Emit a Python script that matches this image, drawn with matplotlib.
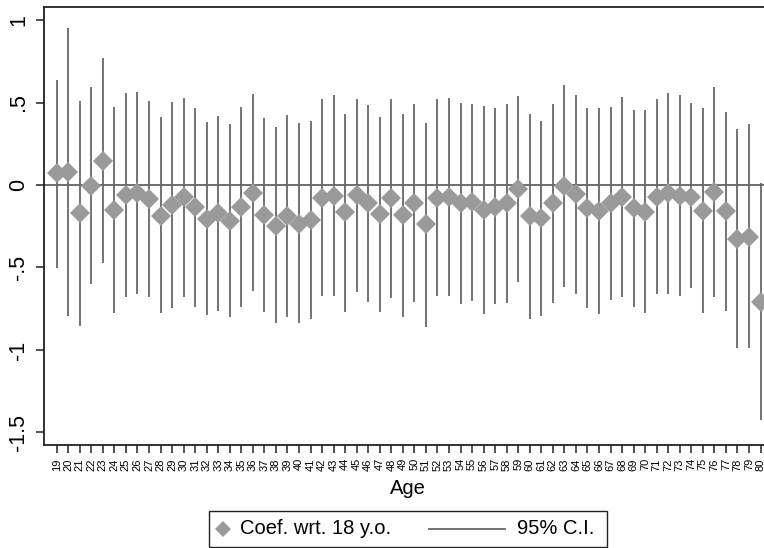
import matplotlib
matplotlib.use("Agg")
import matplotlib.pyplot as plt
from matplotlib.lines import Line2D
from matplotlib.patches import Rectangle
import numpy as np

plt.rcParams['font.family'] = ['Liberation Sans', 'DejaVu Sans']

ages = list(range(19, 81))
coef = [0.071, 0.081, -0.172, -0.004, 0.145, -0.152, -0.061, -0.046, -0.087, -0.186,
        -0.121, -0.075, -0.135, -0.206, -0.168, -0.218, -0.135, -0.046, -0.182, -0.246,
        -0.188, -0.236, -0.212, -0.081, -0.065, -0.166, -0.061, -0.107, -0.178, -0.081,
        -0.182, -0.107, -0.238, -0.077, -0.071, -0.111, -0.105, -0.152, -0.131, -0.111,
        -0.024, -0.188, -0.202, -0.111, -0.004, -0.055, -0.141, -0.158, -0.111, -0.071,
        -0.141, -0.166, -0.071, -0.051, -0.067, -0.071, -0.156, -0.044, -0.158, -0.329,
        -0.313, -0.707]
ci_hi = [0.636, 0.953, 0.511, 0.592, 0.768, 0.475, 0.560, 0.564, 0.509, 0.410,
         0.505, 0.525, 0.465, 0.380, 0.420, 0.368, 0.471, 0.550, 0.408, 0.354,
         0.424, 0.374, 0.390, 0.519, 0.545, 0.430, 0.523, 0.487, 0.414, 0.519,
         0.428, 0.489, 0.374, 0.519, 0.529, 0.495, 0.493, 0.481, 0.465, 0.489,
         0.541, 0.430, 0.386, 0.489, 0.604, 0.545, 0.465, 0.469, 0.471, 0.531,
         0.455, 0.455, 0.521, 0.556, 0.543, 0.495, 0.469, 0.592, 0.444, 0.337,
         0.370, 0.014]
ci_lo = [-0.505, -0.794, -0.853, -0.602, -0.475, -0.778, -0.677, -0.663, -0.677, -0.778,
         -0.747, -0.677, -0.737, -0.788, -0.762, -0.798, -0.737, -0.642, -0.768, -0.834,
         -0.802, -0.834, -0.812, -0.673, -0.673, -0.772, -0.650, -0.707, -0.772, -0.683,
         -0.798, -0.707, -0.859, -0.673, -0.673, -0.721, -0.703, -0.782, -0.723, -0.713,
         -0.590, -0.812, -0.794, -0.713, -0.620, -0.663, -0.747, -0.782, -0.697, -0.677,
         -0.737, -0.778, -0.663, -0.663, -0.673, -0.626, -0.778, -0.681, -0.762, -0.990,
         -0.990, -1.424]
ytick_vals = [1, 0.5, 0, -0.5, -1, -1.5]
ytick_labels = ["1", ".5", "0", "-.5", "-1", "-1.5"]
legend_labels = ['Coef. wrt. 18 y.o.', '95% C.I.']

W, H = 764, 548
fig = plt.figure(figsize=(W / 100, H / 100), dpi=100)
ax = fig.add_axes([44 / W, 1 - 445 / H, 1 - 44 / W, (445 - 7) / H])

line_col = '#686868'
mk_col = '#9a9a9a'
axis_col = '#222222'

ax.axhline(0, color='#555555', lw=1.2, zorder=1)
ax.vlines(ages, ci_lo, ci_hi, color=line_col, lw=1.3, zorder=2)
ax.plot(ages, coef, linestyle='none', marker='D', markersize=10,
        color=mk_col, markeredgewidth=0, zorder=3)

ax.set_xlim(17.9, 80.3)
ax.set_ylim(-1.576, 1.079)
ax.set_yticks(ytick_vals)
ax.set_yticklabels(ytick_labels, rotation=90, va='center', fontsize=15.5)
ax.set_xticks(ages)
ax.set_xticklabels([str(a) for a in ages], rotation=90, fontsize=8)
ax.tick_params(axis='both', length=5.5, width=1.1, color=axis_col)
ax.tick_params(axis='y', pad=5)
ax.tick_params(axis='x', pad=4)
for s in ['left', 'bottom', 'top']:
    ax.spines[s].set_linewidth(1.3)
    ax.spines[s].set_color(axis_col)
ax.spines['right'].set_visible(False)

fig.text(408 / W, 1 - 489 / H, 'Age', fontsize=14.5, ha='center', va='center')

# legend (drawn in figure pixel coordinates)
def fx(px):
    return px / W

def fy(py):
    return 1 - py / H

fig.patches.append(Rectangle((fx(209), fy(547)), fx(607) - fx(209), fy(511) - fy(547),
                             transform=fig.transFigure, fill=False,
                             edgecolor=axis_col, lw=1.0))
fig.lines.append(Line2D([fx(223)], [fy(529)], transform=fig.transFigure,
                        linestyle='none', marker='D', markersize=8.5,
                        color=mk_col, markeredgewidth=0))
fig.text(fx(240), fy(529), legend_labels[0], fontsize=14.5, ha='left', va='center')
fig.lines.append(Line2D([fx(429), fx(505)], [fy(529), fy(529)],
                        transform=fig.transFigure, color=line_col, lw=1.3))
fig.text(fx(517), fy(529), legend_labels[1], fontsize=14.5, ha='left', va='center')

fig.savefig('out.png', dpi=100)
